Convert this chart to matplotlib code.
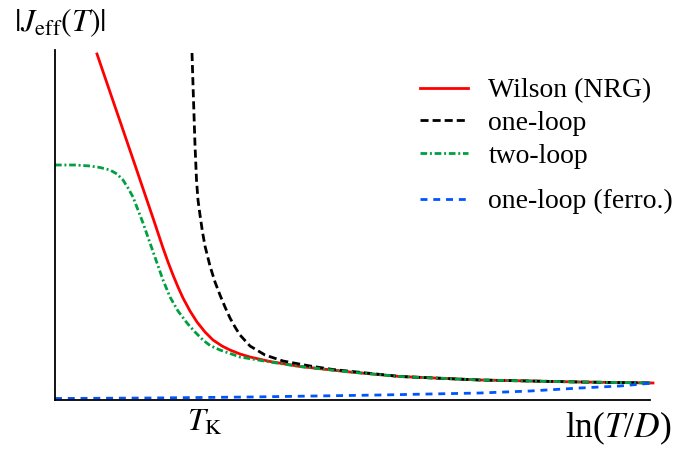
import matplotlib
matplotlib.use("Agg")
import matplotlib.pyplot as plt

plt.rcParams["font.family"] = ["Liberation Serif", "DejaVu Serif"]
plt.rcParams["mathtext.fontset"] = "stix"

# --------------- data (arbitrary units, x ~ ln(T/D)) ---------------
x_wilson = [42, 55, 67, 80, 90, 98, 103, 108, 113, 118, 123, 128, 135, 142,
            150, 158, 167, 175, 185, 195, 215, 245, 295, 345, 425, 525, 598]
y_wilson = [346, 308, 273, 235, 205.5, 182, 167, 152, 138, 125, 113, 102, 89, 78,
            68, 60, 54, 50, 46, 43, 38.5, 33.5, 28, 23.5, 20, 18, 17]

x_two = [0, 20, 35, 45, 55, 62, 68, 73, 78, 83, 88, 95, 102, 108, 115, 123,
         132, 140, 148, 155, 165, 185, 215, 245, 295, 345, 425, 525, 598]
y_two = [235, 235, 234, 232.5, 230, 226, 220, 212, 203, 190, 177, 157, 137, 120, 103, 89,
         77, 68, 60, 54.5, 50, 43, 38, 33.5, 28, 23.5, 20, 18, 17]

x_one = [137, 138.5, 140, 141.5, 143, 145, 147.5, 150, 155, 160, 165, 170, 175, 180,
         185, 195, 210, 228, 255, 278, 345, 425, 525, 598]
y_one = [347, 300, 255, 220, 200, 185, 168, 154, 134, 118, 105, 93, 82, 73,
         65, 54, 45, 39, 34, 30.5, 23.5, 20, 18, 17]

x_ferro = [0, 95, 195, 325, 425, 475, 525, 565, 598]
y_ferro = [1.5, 2, 3, 5, 7, 9, 12, 14, 17]

T_K = 150

# ********** 描写 **********
fig = plt.figure(figsize=(6.76, 4.5), dpi=100)
ax = fig.add_axes([55 / 676, 50 / 450, 595 / 676, 350 / 450])

l1, = ax.plot(x_wilson, y_wilson, color="#ff0000", lw=2.0, clip_on=False, label="Wilson (NRG)")
l2, = ax.plot(x_one, y_one, color="black", lw=2.0, dashes=(2.9, 1.45), clip_on=False, label="one-loop")
l3, = ax.plot(x_two, y_two, color="#00a040", lw=2.0, dashes=(2.4, 1.0, 0.7, 1.0), clip_on=False, label="two-loop")
l4, = ax.plot(x_ferro, y_ferro, color="#0055ff", lw=2.0, dashes=(2.5, 2.1), clip_on=False,
              label="one-loop (ferro.)")

ax.set_xlim(0, 595)
ax.set_ylim(0, 350)
for s in ["top", "right"]:
    ax.spines[s].set_visible(False)
ax.spines["left"].set_linewidth(1.3)
ax.spines["bottom"].set_linewidth(1.3)
ax.set_yticks([])
ax.set_xticks([T_K])
ax.set_xticklabels([r"$T_{\rm K}$"], fontsize=23)
ax.tick_params(axis="x", length=0, pad=6)

ax.text(1.037, -0.027, r"ln($T$/$D$)", transform=ax.transAxes, ha="right", va="top", fontsize=25.5)
fig.text(14 / 676, 1 - 23 / 450, r"$|J_{\rm eff}(T)|$", ha="left", va="center", fontsize=23)

kw = dict(loc="upper left", frameon=False, fontsize=20, handlelength=1.75,
          handletextpad=0.72, borderpad=0, borderaxespad=0)
leg1 = ax.legend(handles=[l1, l2, l3], bbox_to_anchor=(0.613, 0.92), labelspacing=0.26, **kw)
ax.add_artist(leg1)
ax.legend(handles=[l4], bbox_to_anchor=(0.613, 0.603), **kw)

fig.savefig("out.png", dpi=100)
